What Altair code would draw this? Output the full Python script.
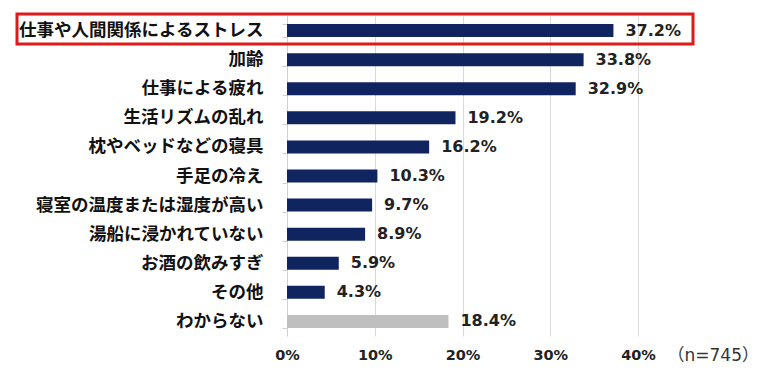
import altair as alt
import pandas as pd

categories = [
    "仕事や人間関係によるストレス",
    "加齢",
    "仕事による疲れ",
    "生活リズムの乱れ",
    "枕やベッドなどの寝具",
    "手足の冷え",
    "寝室の温度または湿度が高い",
    "湯船に浸かれていない",
    "お酒の飲みすぎ",
    "その他",
    "わからない",
]
values = [37.2, 33.8, 32.9, 19.2, 16.2, 10.3, 9.7, 8.9, 5.9, 4.3, 18.4]
groups = ["main"] * 10 + ["unknown"]
x_ticks = [0, 0.1, 0.2, 0.3, 0.4]
note = "（n=745）"

df = pd.DataFrame({
    "cat": categories,
    "val": [v / 100 for v in values],
    "label": [f"{v:.1f}%" for v in values],
    "grp": groups,
})

FONT_JP = "Noto Sans CJK JP"
FONT_NUM = "DejaVu Sans"

y_enc = alt.Y(
    "cat:N",
    sort=categories,
    title=None,
    scale=alt.Scale(paddingInner=0.55, paddingOuter=0.275),
    axis=alt.Axis(
        labelFont=FONT_JP,
        labelFontSize=17.5,
        labelFontWeight="bold",
        labelColor="#111111",
        labelPadding=19,
        tickBand="extent",
        tickSize=5,
        tickColor="#d0d0d0",
        domainColor="#d0d0d0",
        labelLimit=400,
    ),
)

x_enc = alt.X(
    "val:Q",
    scale=alt.Scale(domain=[0, 0.4], nice=False),
    axis=alt.Axis(
        values=x_ticks,
        format=".0%",
        labelFont=FONT_NUM,
        labelFontSize=14.5,
        labelFontWeight="bold",
        labelColor="#222222",
        labelPadding=12,
        labelFlush=False,
        ticks=False,
        domain=False,
        grid=True,
        gridColor="#d9d9d9",
        title=note,
        titleFont="DejaVu Sans, Noto Sans CJK JP",
        titleFontSize=17,
        titleFontWeight="normal",
        titleColor="#333333",
        titleAlign="left",
        titleAnchor="start",
        titleX=380,
        titleY=19,
        titleBaseline="middle",
    ),
)

bars = alt.Chart(df).mark_bar(size=13).encode(
    y=y_enc,
    x=x_enc,
    color=alt.Color(
        "grp:N",
        scale=alt.Scale(domain=["main", "unknown"], range=["#102460", "#bfbfbf"]),
        legend=None,
    ),
)

labels = alt.Chart(df).mark_text(
    align="left", baseline="middle", dx=12, font=FONT_NUM, fontSize=16,
    fontWeight="bold", color="#222222",
).encode(
    y=alt.Y("cat:N", sort=categories),
    x="val:Q",
    text="label:N",
)

box = alt.Chart(df).transform_filter(
    alt.datum.cat == categories[0]
).mark_rect(filled=False, stroke="#e0191b", strokeWidth=3).encode(
    x=alt.value(-270), x2=alt.value(406), y=alt.value(-2), y2=alt.value(28),
)

chart = alt.layer(bars, labels, box).properties(
    width=351,
    height=320,
    autosize=alt.AutoSizeParams(type="none"),
    padding={"left": 279, "top": 8, "right": 120, "bottom": 35},
).configure_view(stroke=None)

chart.save("out.html", embed_options={"renderer": "svg", "actions": False})
